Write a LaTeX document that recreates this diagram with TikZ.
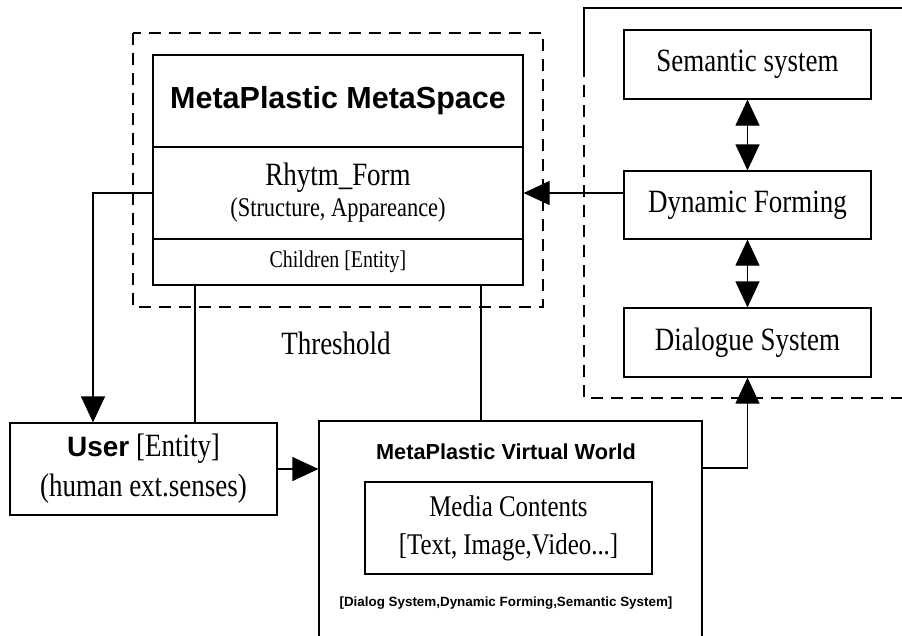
\documentclass[tikz,border=0pt]{standalone}
\usepackage{fontspec}
\setmainfont{Liberation Serif}[FakeStretch=0.83]
\setsansfont{Liberation Sans}
\usepackage{tikz}
\usetikzlibrary{arrows.meta, calc}

\begin{document}
\begin{tikzpicture}[x=1pt, y=-1pt, line width=1.2pt, >={Triangle[length=26pt,width=24pt]}]
		\useasboundingbox (0,0) rectangle (902,635);
		\begin{scope}[every node/.style={draw,rectangle,inner sep=0,align=center,font=\fontsize{32.5}{34}\selectfont}]
		\node[minimum width=370, minimum height=92, font=\fontsize{30.5}{32}\selectfont\sffamily\bfseries] (title) at (338,101) {MetaPlastic MetaSpace};
		\node[minimum width=370, minimum height=92] (rhythm) at (338,193) {Rhytm\_Form\\[-3pt]{\fontsize{27}{28}\selectfont(Structure, Appareance)}};
		\node[minimum width=370, minimum height=46, font=\fontsize{24}{26}\selectfont] (children) at (338,262) {Children [Entity]};
		\node[minimum width=247, minimum height=69] (semantic) at (747.5,64.5) {Semantic system};
		\node[minimum width=247, minimum height=68] (dynamic) at (747.5,205) {Dynamic Forming};
		\node[minimum width=247, minimum height=69] (dialogue) at (747.5,342.5) {Dialogue System};
		\node[minimum width=267, minimum height=92, font=\fontsize{32.5}{40}\selectfont] (user) at (143.5,469) {{\fontsize{28}{30}\selectfont\sffamily\bfseries User} [Entity]\\(human ext.senses)};
		\node[minimum width=383, minimum height=239] (vw) at (510.5,540.5) {};
		\node[minimum width=287, minimum height=92, font=\fontsize{30}{38}\selectfont] (media) at (508.5,528) {Media Contents\\{}[Text, Image,Video...]};
		\end{scope}
		
		\node[font=\fontsize{21.7}{24}\selectfont\sffamily\bfseries] (vwtitle) at (506,452) {MetaPlastic Virtual World};
		\node[font=\fontsize{13.4}{15}\selectfont\sffamily\bfseries] (vwsub) at (506,603) {[Dialog System,Dynamic Forming,Semantic System]};
		\node[font=\fontsize{32.5}{34}\selectfont] (threshold) at (336,343) {Threshold};
		
		% frames
		\draw[dash pattern=on 12pt off 8pt] (133,33) rectangle (543,307);
		\draw (902,8) -- (584,8) -- (584,65);
		\draw[dash pattern=on 12pt off 8pt] (584,65) -- (584,398) -- (902,398);
		
		\coordinate (turn) at (93,193);
		\coordinate (ulink) at (195,0);
		\coordinate (wlink) at (481,0);
		\coordinate (vwout) at (702,468);
		
		\draw[<->] (semantic) -- (dynamic);
		\draw[<->] (dynamic) -- (dialogue);
		\draw[->] (dynamic.west |- rhythm.east) -- (rhythm.east);
		\draw[->] (rhythm.west) -- (turn) -- (turn |- user.north);
		\draw[-] (ulink |- children.south) -- (ulink |- user.north);
		\draw[-] (wlink |- children.south) -- (wlink |- vw.north);
		\draw[->] (user.east) -- (user.east -| vw.west);
		\draw[->] (vwout) -| (dialogue.south);
		
		\end{tikzpicture}
\end{document}
